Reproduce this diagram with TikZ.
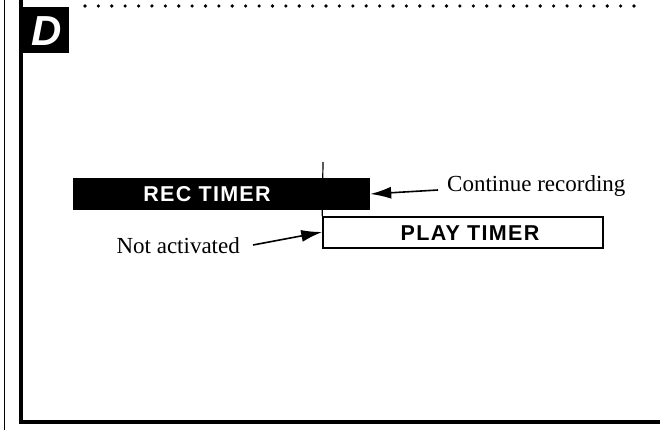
\documentclass[tikz,border=0pt]{standalone}
\usepackage{fontspec}
\setmainfont{Liberation Serif}
\newfontfamily\panelsans{Liberation Sans}
\usetikzlibrary{arrows.meta, positioning}
\tikzset{
    timerbox/.style={rectangle, minimum width=280pt, minimum height=31pt, draw=black, line width=1.5pt, inner sep=0pt},
    timertext/.style={font=\panelsans\bfseries\fontsize{21.5}{21.5}\selectfont\addfontfeatures{LetterSpace=6}, inner sep=0pt},
    notetext/.style={font=\fontsize{23}{23}\selectfont, inner sep=0pt},
    pointer/.style={-{Latex[length=21pt, width=12pt]}, line width=1.6pt},
}
\begin{document}
\begin{tikzpicture}[x=1pt,y=-1pt,
  framerule/.style={line width=4.5pt},
  dotrow/.style={fill=black}
]
\useasboundingbox (0,0) rectangle (660,430);
% Frame
\draw[line width=0.8pt] (4,0) -- (4,430);
\draw[framerule] (21,0) -- (21,424);
\draw[framerule] (19,422) -- (660,422);
\foreach \i in {0,...,41} \fill[dotrow] (85+\i*13.39,6) circle (1.8);

% Panel letter
\node[fill=black, minimum width=47pt, minimum height=46pt, inner sep=0pt] (tag) at (45,30) {};
\node[text=white, font=\panelsans\bfseries\itshape\fontsize{42}{42}\selectfont, inner sep=0pt] (tagletter) at (47,31) {D};

% Timer bars
\node[fill=black, minimum width=297pt, minimum height=32pt, inner sep=0pt] (recbar) at (221.5,194) {};
\node[timertext, text=white] (rectext) at (207,194) {REC TIMER};
\node[timerbox] (playbox) at (463,232.5) {};
\node[timertext] (playtext) at (470,233) {PLAY TIMER};
\coordinate (mark) at (323,162);
\draw[line width=1.2pt] (mark) -- (playbox.north west);

% Labels
\node[notetext, anchor=west] (cont) at (447,186) {Continue recording};
\node[notetext, anchor=east] (notact) at (240,246) {Not activated};
\draw[pointer] ([xshift=-9pt,yshift=-4pt]cont.west) -- (recbar.east);
\draw[pointer] ([xshift=13pt,yshift=1pt]notact.east) -- ([yshift=0.5pt]playbox.west);
\end{tikzpicture}
\end{document}
